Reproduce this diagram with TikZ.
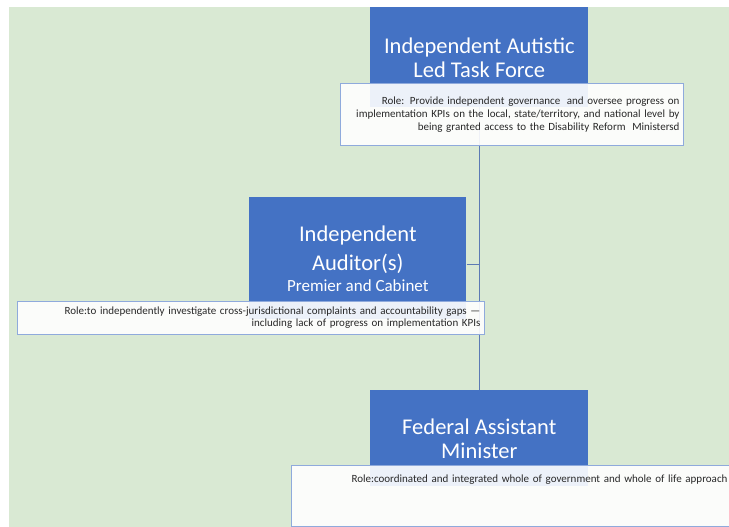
\documentclass[tikz,border=0pt]{standalone}
\usepackage{fontspec}
\setmainfont{Carlito}
\usetikzlibrary{positioning,backgrounds}

\definecolor{bggreen}{RGB}{217,233,211}
\definecolor{headblue}{RGB}{68,114,196}
\definecolor{roleedge}{RGB}{143,170,220}
\definecolor{trunkblue}{RGB}{92,122,180}
\definecolor{roletext}{RGB}{40,40,40}

\begin{document}
\begin{tikzpicture}[x=1pt,y=-1pt,semithick]
  \tikzstyle{head}=[fill=headblue,draw=none,text=white,align=center,
                    inner sep=0pt,anchor=north west,
                    font=\fontsize{22.5}{24}\selectfont]
  \tikzstyle{role}=[fill=white,fill opacity=0.9,text opacity=1,
                    draw=roleedge,line width=1pt,text=roletext,
                    align=right,anchor=north west,inner xsep=4pt,
                    font=\fontsize{11}{13.3}\selectfont]
  \tikzstyle{link}=[draw=trunkblue,line width=1.6pt]

  \useasboundingbox (0,0) rectangle (729,527);

  % blue heads
  \node[head,minimum width=218pt,minimum height=100pt] (tf) at (370,7)
       {Independent Autistic\\Led Task Force};
  \node[head,minimum width=217pt,minimum height=122pt] (aud) at (249,197)
       {Independent\\[5pt]Auditor(s)\\[-3pt]{\fontsize{17}{20}\selectfont Premier and Cabinet}};
  \node[head,minimum width=218pt,minimum height=96pt] (fed) at (370,390)
       {Federal Assistant\\Minister};

  % role boxes over the lower part of each head
  \node[role,text width=335pt,minimum height=62pt] (tfrole) at (340,83)
       {Role: Provide independent governance\hspace{3pt} and oversee progress on\\
        implementation KPIs on the local, state/territory, and national level by\\
        being granted access to the Disability Reform\hspace{3pt} Ministersd};
  \node[role,text width=459pt,minimum height=33pt,
        font=\fontsize{11}{12}\selectfont] (audrole) at (17,301)
       {Role:to independently investigate cross-jurisdictional complaints and accountability gaps —\\
        including lack of progress on implementation KPIs};
  \node[role,text width=432pt,inner ysep=4pt,text height=13pt,text depth=40pt] (fedrole) at (291,465)
       {Role:coordinated and integrated whole of government and whole of life approach};

  \begin{pgfonlayer}{background}
    \fill[white] (0,0) rectangle (729,527);
    \fill[bggreen] (9,7) rectangle (729,527);
    \draw[link] (tf.center) -- (fed.center);
    \draw[link] ([yshift=-6pt]aud.east) coordinate (tee) -- (tee -| tf.center);
  \end{pgfonlayer}
\end{tikzpicture}
\end{document}
